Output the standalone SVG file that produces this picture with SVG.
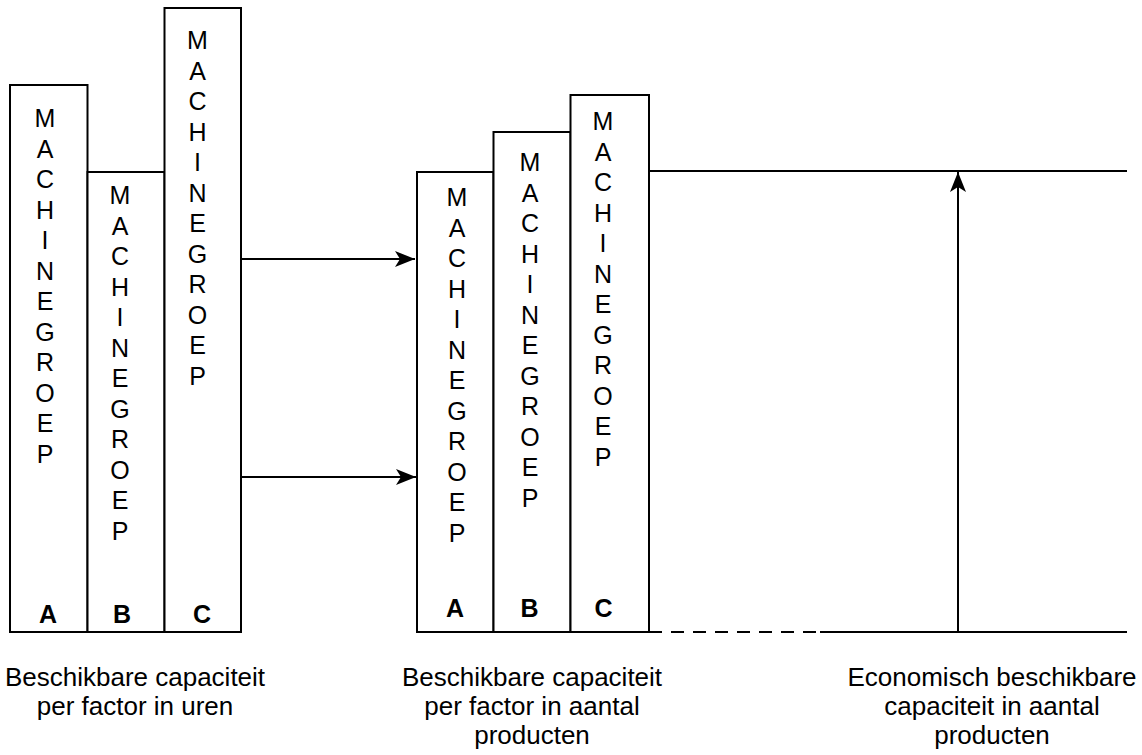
<svg xmlns="http://www.w3.org/2000/svg" width="1142" height="755" viewBox="0 0 1142 755">
<defs>
<style>
.box{fill:#fff;stroke:#000;stroke-width:2}
.v{font-family:"Liberation Sans",Arial,sans-serif;font-size:25px;fill:#000;text-anchor:middle}
.lbl{font-family:"Liberation Sans",Arial,sans-serif;font-size:25px;font-weight:bold;fill:#000;text-anchor:middle}
.cap{font-family:"Liberation Sans",Arial,sans-serif;font-size:26px;fill:#000;text-anchor:middle}
.ln{fill:none;stroke:#000;stroke-width:2}
</style>
<marker id="arr" viewBox="0 0 20 16" refX="20" refY="8" markerWidth="20" markerHeight="16" markerUnits="userSpaceOnUse" orient="auto">
<path d="M0,0 L20,8 L0,16 L5,8 Z" fill="#000"/>
</marker>
</defs>
<rect width="1142" height="755" fill="#fff"/>

<g id="left-A">
<rect class="box" x="10" y="85" width="77.5" height="547"/>
<text class="v" x="45" y="127"><tspan x="45">M</tspan><tspan x="45" dy="30.5">A</tspan><tspan x="45" dy="30.5">C</tspan><tspan x="45" dy="30.5">H</tspan><tspan x="45" dy="30.5">I</tspan><tspan x="45" dy="30.5">N</tspan><tspan x="45" dy="30.5">E</tspan><tspan x="45" dy="30.5">G</tspan><tspan x="45" dy="30.5">R</tspan><tspan x="45" dy="30.5">O</tspan><tspan x="45" dy="30.5">E</tspan><tspan x="45" dy="30.5">P</tspan></text>
<text class="lbl" x="48" y="623">A</text>
</g>
<g id="left-B">
<rect class="box" x="87.5" y="172" width="77" height="460"/>
<text class="v" x="120" y="204"><tspan x="120">M</tspan><tspan x="120" dy="30.5">A</tspan><tspan x="120" dy="30.5">C</tspan><tspan x="120" dy="30.5">H</tspan><tspan x="120" dy="30.5">I</tspan><tspan x="120" dy="30.5">N</tspan><tspan x="120" dy="30.5">E</tspan><tspan x="120" dy="30.5">G</tspan><tspan x="120" dy="30.5">R</tspan><tspan x="120" dy="30.5">O</tspan><tspan x="120" dy="30.5">E</tspan><tspan x="120" dy="30.5">P</tspan></text>
<text class="lbl" x="122" y="623">B</text>
</g>
<g id="left-C">
<rect class="box" x="164.5" y="8" width="76.5" height="624"/>
<text class="v" x="197.5" y="49"><tspan x="197.5">M</tspan><tspan x="197.5" dy="30.5">A</tspan><tspan x="197.5" dy="30.5">C</tspan><tspan x="197.5" dy="30.5">H</tspan><tspan x="197.5" dy="30.5">I</tspan><tspan x="197.5" dy="30.5">N</tspan><tspan x="197.5" dy="30.5">E</tspan><tspan x="197.5" dy="30.5">G</tspan><tspan x="197.5" dy="30.5">R</tspan><tspan x="197.5" dy="30.5">O</tspan><tspan x="197.5" dy="30.5">E</tspan><tspan x="197.5" dy="30.5">P</tspan></text>
<text class="lbl" x="202" y="623">C</text>
</g>

<g id="mid-A">
<rect class="box" x="417" y="172" width="76.5" height="460"/>
<text class="v" x="457" y="206"><tspan x="457">M</tspan><tspan x="457" dy="30.5">A</tspan><tspan x="457" dy="30.5">C</tspan><tspan x="457" dy="30.5">H</tspan><tspan x="457" dy="30.5">I</tspan><tspan x="457" dy="30.5">N</tspan><tspan x="457" dy="30.5">E</tspan><tspan x="457" dy="30.5">G</tspan><tspan x="457" dy="30.5">R</tspan><tspan x="457" dy="30.5">O</tspan><tspan x="457" dy="30.5">E</tspan><tspan x="457" dy="30.5">P</tspan></text>
<text class="lbl" x="455" y="617">A</text>
</g>
<g id="mid-B">
<rect class="box" x="493.5" y="132" width="77" height="500"/>
<text class="v" x="530" y="171"><tspan x="530">M</tspan><tspan x="530" dy="30.5">A</tspan><tspan x="530" dy="30.5">C</tspan><tspan x="530" dy="30.5">H</tspan><tspan x="530" dy="30.5">I</tspan><tspan x="530" dy="30.5">N</tspan><tspan x="530" dy="30.5">E</tspan><tspan x="530" dy="30.5">G</tspan><tspan x="530" dy="30.5">R</tspan><tspan x="530" dy="30.5">O</tspan><tspan x="530" dy="30.5">E</tspan><tspan x="530" dy="30.5">P</tspan></text>
<text class="lbl" x="529.5" y="617">B</text>
</g>
<g id="mid-C">
<rect class="box" x="570.5" y="95" width="78.5" height="537"/>
<text class="v" x="603" y="130"><tspan x="603">M</tspan><tspan x="603" dy="30.5">A</tspan><tspan x="603" dy="30.5">C</tspan><tspan x="603" dy="30.5">H</tspan><tspan x="603" dy="30.5">I</tspan><tspan x="603" dy="30.5">N</tspan><tspan x="603" dy="30.5">E</tspan><tspan x="603" dy="30.5">G</tspan><tspan x="603" dy="30.5">R</tspan><tspan x="603" dy="30.5">O</tspan><tspan x="603" dy="30.5">E</tspan><tspan x="603" dy="30.5">P</tspan></text>
<text class="lbl" x="603.5" y="617">C</text>
</g>

<g id="connectors">
<line class="ln" x1="241" y1="259" x2="415" y2="259" marker-end="url(#arr)"/>
<line class="ln" x1="241" y1="477" x2="416" y2="477" marker-end="url(#arr)"/>
<line class="ln" x1="649" y1="171" x2="1127" y2="171"/>
<line class="ln" x1="649" y1="632" x2="820" y2="632" stroke-dasharray="13 9"/>
<line class="ln" x1="820" y1="632" x2="1127" y2="632"/>
<line class="ln" x1="958" y1="632" x2="958" y2="172" marker-end="url(#arr)"/>
</g>

<g id="caption-left">
<text class="cap" x="135" y="686">Beschikbare capaciteit</text>
<text class="cap" x="135" y="715">per factor in uren</text>
</g>
<g id="caption-mid">
<text class="cap" x="532" y="686">Beschikbare capaciteit</text>
<text class="cap" x="532" y="715">per factor in aantal</text>
<text class="cap" x="532" y="744">producten</text>
</g>
<g id="caption-right">
<text class="cap" x="992" y="686">Economisch beschikbare</text>
<text class="cap" x="992" y="715">capaciteit in aantal</text>
<text class="cap" x="992" y="744">producten</text>
</g>
</svg>
